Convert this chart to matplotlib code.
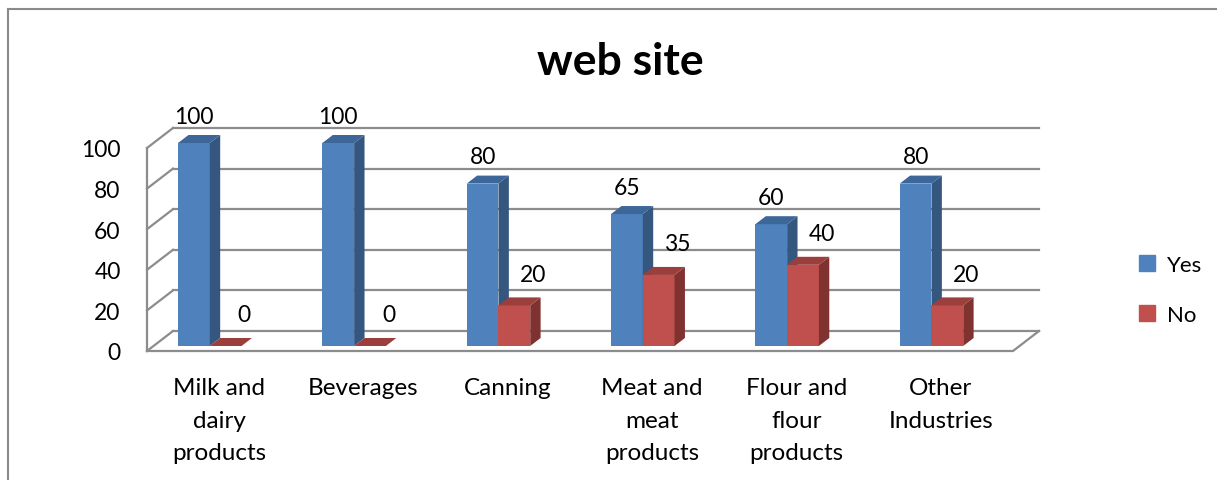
import matplotlib
matplotlib.use("Agg")
import matplotlib.pyplot as plt
from matplotlib.patches import Polygon, Patch
from matplotlib.lines import Line2D

# data
categories = ["Milk and\ndairy\nproducts", "Beverages", "Canning",
              "Meat and\nmeat\nproducts", "Flour and\nflour\nproducts", "Other\nIndustries"]
yes_values = [100, 100, 80, 65, 60, 80]
no_values = [0, 0, 20, 35, 40, 20]
series_names = ["Yes", "No"]
y_ticks = [0, 20, 40, 60, 80, 100]

plt.rcParams['font.family'] = ['Lato', 'DejaVu Sans']

W, H = 1217, 481
fig = plt.figure(figsize=(W / 100, H / 100), dpi=100)

# front plane of the plot: x 0..6 -> px 147..1013, y 0..100 -> px 352..149
ax = fig.add_axes([147 / W, (H - 352) / H, 866 / W, 203 / H])
ax.set_xlim(0, len(categories))
ax.set_ylim(0, 100)
for s in ax.spines.values():
    s.set_visible(False)

# depth vector of the 3d box in data units (26px right, 20px up)
DX = 26 / (866 / 6)
DY = 20 / 2.03
grid_col = "#8c8c8c"
grid_lw = 1.6

# back wall + side wall gridlines
for v in y_ticks:
    ax.plot([DX, len(categories) + DX], [v + DY, v + DY], color=grid_col, lw=grid_lw, zorder=1, clip_on=False)
    ax.plot([0, DX], [v, v + DY], color=grid_col, lw=grid_lw, zorder=1, clip_on=False)
ax.plot([0, 0], [0, 100], color=grid_col, lw=grid_lw, zorder=1, clip_on=False)
# floor
n = len(categories)
ax.plot([0, n, n + DX], [0, 0, DY], color=grid_col, lw=grid_lw, zorder=1, clip_on=False)

# bars
f0, f1 = 0.25, 0.65
bw = 0.22
colors = [("#4f81bd", "#34567f", "#3d6699"), ("#c0504d", "#803230", "#9c3e3b")]
for j, vals in enumerate([yes_values, no_values]):
    front, side, top = colors[j]
    for i, v in enumerate(vals):
        xl = i + 0.17 + bw * j + f0 * DX
        xr = xl + bw
        b = f0 * DY
        ddx, ddy = (f1 - f0) * DX, (f1 - f0) * DY
        z = 3 + j
        ax.bar(xl, v, width=bw, bottom=b, align="edge", color=front, lw=0, zorder=z, clip_on=False)
        ax.add_patch(Polygon([(xr, b), (xr + ddx, b + ddy), (xr + ddx, b + v + ddy), (xr, b + v)],
                             closed=True, facecolor=side, lw=0, zorder=z, clip_on=False))
        ax.add_patch(Polygon([(xl, b + v), (xr, b + v), (xr + ddx, b + v + ddy), (xl + ddx, b + v + ddy)],
                             closed=True, facecolor=top, lw=0, zorder=z, clip_on=False))
        # value labels
        if j == 0:
            ax.text((xl + xr) / 2, v + b + 13.3, str(v), ha="center", va="center", fontsize=16.5, zorder=6)
        else:
            ax.text((xl + xr) / 2 + 0.13, v + b + 15.3, str(v), ha="center", va="center", fontsize=16.5, zorder=6)

ax.set_yticks(y_ticks)
ax.set_yticklabels([str(t) for t in y_ticks], fontsize=16.5)
ax.set_xticks([i + 0.5 for i in range(n)])
ax.set_xticklabels(categories, fontsize=17.5, linespacing=1.66, va="top")
ax.tick_params(axis="y", length=0, pad=19)
ax.tick_params(axis="x", length=0, pad=19)

fig.text(620 / W, 1 - 62 / H, "web site", ha="center", va="center", fontsize=32, fontweight="bold")

handles = [Patch(color=colors[0][0]), Patch(color=colors[1][0])]
fig.legend(handles, series_names, loc="center left", bbox_to_anchor=(1119 / W, 1 - 291 / H),
           frameon=False, fontsize=16, handlelength=0.7, handleheight=0.7,
           handletextpad=0.55, labelspacing=1.35)

# outer chart border (top and left visible)
fig.add_artist(Line2D([8 / W, 8 / W], [0, 1 - 10 / H], transform=fig.transFigure, color="#8a8a8a", lw=1.5))
fig.add_artist(Line2D([8 / W, 1], [1 - 10 / H, 1 - 10 / H], transform=fig.transFigure, color="#8a8a8a", lw=1.5))

fig.savefig("out.png", dpi=100)
